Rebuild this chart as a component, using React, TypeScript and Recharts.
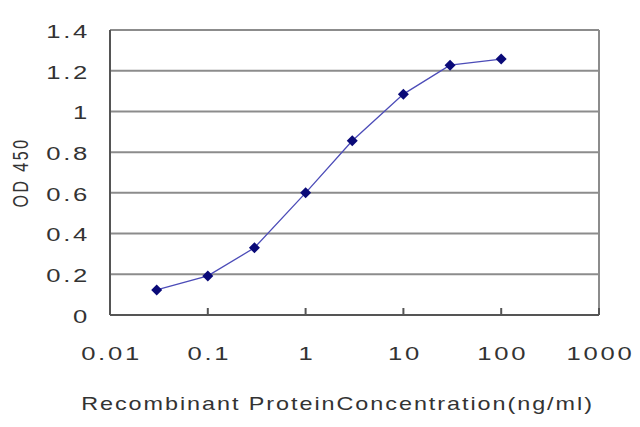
import { CartesianGrid, Label, Line, LineChart, ReferenceLine, XAxis, YAxis } from 'recharts'

const CONC = [0.03, 0.1, 0.3, 1, 3, 10, 30, 100]
const OD = [0.123, 0.192, 0.33, 0.6, 0.856, 1.085, 1.227, 1.257]
const X_TICKS = [0.01, 0.1, 1, 10, 100, 1000]
const X_LABELS = ['0.01', '0.1', '1', '10', '100', '1000']
const Y_TICKS = [0, 0.2, 0.4, 0.6, 0.8, 1, 1.2, 1.4]
const Y_LABELS = ['0', '0.2', '0.4', '0.6', '0.8', '1', '1.2', '1.4']

const FONT = '"Liberation Sans", Arial, sans-serif'
const TEXT = '#333'
const AXIS = '#555'
const GRID = '#8c8c8c'
const X_MARGIN = 32
// the reference text is stretched sideways
const STRETCH = 1.35

const data = CONC.map((c, i) => ({ conc: c, od: OD[i] }))

type ViewBox = { x: number; y: number; width: number; height: number }

function Diamond(props: { cx?: number; cy?: number }) {
  const { cx, cy } = props
  if (cx == null || cy == null) return null
  const r = 5.5
  return <polygon points={`${cx},${cy - r} ${cx + r},${cy} ${cx},${cy + r} ${cx - r},${cy}`} fill="#0a0a78" />
}

function XTick(props: { x?: number; y?: number; payload?: { value: number } }) {
  const { x = 0, y = 0, payload } = props
  const i = X_TICKS.indexOf(payload?.value ?? -1)
  const axisY = y - X_MARGIN
  return (
    <g>
      <line x1={x} x2={x} y1={axisY} y2={axisY - 7} stroke={AXIS} strokeWidth={2} />
      <text
        transform={`translate(${x + 1.5}, ${y}) scale(${STRETCH}, 1)`}
        dy="0.71em"
        textAnchor="middle"
        fontSize={19}
        letterSpacing={2}
        fill={TEXT}
        fontFamily={FONT}
      >
        {X_LABELS[i] ?? String(payload?.value)}
      </text>
    </g>
  )
}

function YTick(props: { x?: number; y?: number; payload?: { value: number } }) {
  const { x = 0, y = 0, payload } = props
  const i = Y_TICKS.indexOf(payload?.value ?? -1)
  return (
    <text
      transform={`translate(${x + 2}, ${y + 1}) scale(${STRETCH}, 1)`}
      dy="0.36em"
      textAnchor="end"
      fontSize={19}
      letterSpacing={2}
      fill={TEXT}
      fontFamily={FONT}
    >
      {Y_LABELS[i] ?? String(payload?.value)}
    </text>
  )
}

function XTitle(props: { viewBox?: ViewBox }) {
  const vb = props.viewBox ?? { x: 0, y: 0, width: 0, height: 0 }
  const cx = vb.x + vb.width / 2 - 17
  const cy = vb.y + vb.height - 5
  return (
    <text
      transform={`translate(${cx}, ${cy}) scale(1.3, 1)`}
      textAnchor="middle"
      fontSize={18}
      letterSpacing={1.5}
      fill={TEXT}
      fontFamily={FONT}
    >
      Recombinant ProteinConcentration(ng/ml)
    </text>
  )
}

function YTitle(props: { viewBox?: ViewBox }) {
  const vb = props.viewBox ?? { x: 0, y: 0, width: 0, height: 0 }
  const cx = vb.x + 20
  const cy = vb.y + vb.height / 2
  return (
    <text
      transform={`translate(${cx}, ${cy}) scale(${STRETCH}, 1) rotate(-90)`}
      textAnchor="middle"
      dy="0.36em"
      fontSize={16}
      letterSpacing={2.5}
      fill={TEXT}
      fontFamily={FONT}
    >
      OD 450
    </text>
  )
}

export default function App() {
  return (
    <div style={{ position: 'absolute', left: 0, top: 0, width: 640, height: 427, background: '#fff' }}>
      <LineChart width={640} height={427} data={data} margin={{ top: 30, right: 41, bottom: 12, left: 0 }}>
        <CartesianGrid vertical={false} stroke={GRID} strokeWidth={2} />
        <ReferenceLine x={1000} stroke={GRID} strokeWidth={2} ifOverflow="visible" />
        <XAxis
          dataKey="conc"
          type="number"
          scale="log"
          domain={[0.01, 1000]}
          ticks={X_TICKS}
          allowDataOverflow
          height={100}
          tickSize={0}
          tickMargin={X_MARGIN}
          tick={<XTick />}
          stroke={AXIS}
          strokeWidth={2}
        >
          <Label content={<XTitle />} />
        </XAxis>
        <YAxis
          type="number"
          domain={[0, 1.4]}
          ticks={Y_TICKS}
          width={110}
          tickSize={0}
          tickMargin={22}
          tick={<YTick />}
          stroke={AXIS}
          strokeWidth={2}
        >
          <Label content={<YTitle />} />
        </YAxis>
        <Line
          dataKey="od"
          stroke="#4c4cb8"
          strokeWidth={1.3}
          dot={<Diamond />}
          activeDot={false}
          isAnimationActive={false}
        />
      </LineChart>
    </div>
  )
}
